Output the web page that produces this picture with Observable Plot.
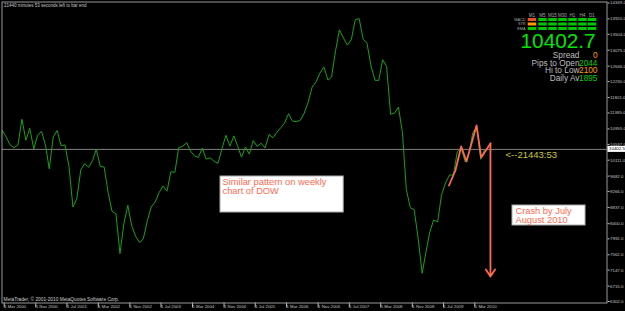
<!DOCTYPE html>
<html><head><meta charset="utf-8">
<script src="https://cdn.jsdelivr.net/npm/d3@7"></script>
<script src="https://cdn.jsdelivr.net/npm/@observablehq/plot@0.6"></script>
<style>
html,body{margin:0;padding:0;background:#000;overflow:hidden;}
#wrap{position:relative;width:625px;height:311px;overflow:hidden;background:#000;}
</style></head><body><div id="wrap"></div>
<script>
// Monthly closes (bar open month), Feb 2000 .. Jun 2010
const closes = [
  10128.31, 10921.92, 10733.91, 10522.33, 10447.89, 10521.98, 11215.10, 10650.92, 10971.14, 10414.49, 10786.85,
  10887.36, 10495.28, 9878.78, 10734.97, 10911.94, 10502.40, 10522.81, 9949.75, 8847.56, 9075.14, 9851.56, 10021.50,
  9920.00, 10106.13, 10403.94, 9946.22, 9925.25, 9243.26, 8736.59, 8663.50, 7591.93, 8397.03, 8896.09, 8341.63,
  8053.81, 7891.08, 7992.13, 8480.09, 8850.26, 8985.44, 9233.80, 9415.82, 9275.06, 9801.12, 9782.46, 10453.92,
  10488.07, 10583.92, 10357.70, 10225.57, 10188.45, 10435.48, 10139.71, 10173.92, 10080.27, 10027.47, 10428.02, 10783.01,
  10489.94, 10766.23, 10503.76, 10192.51, 10467.48, 10274.97, 10640.91, 10481.60, 10568.70, 10440.07, 10805.87, 10717.50,
  10864.86, 10993.41, 11109.32, 11367.14, 11168.31, 11150.22, 11185.68, 11381.15, 11679.07, 12080.73, 12221.93, 12463.15,
  12621.69, 12268.63, 12354.35, 13062.91, 13627.64, 13408.62, 13211.99, 13357.74, 13895.63, 13930.01, 13371.72, 13264.82,
  12650.36, 12266.39, 12262.89, 12820.13, 12638.32, 11350.01, 11378.02, 11543.55, 10850.66, 9325.01, 8829.04, 8776.39,
  8000.86, 7062.93, 7608.92, 8168.12, 8500.33, 8447.00, 9171.61, 9496.28, 9712.28, 9712.73, 10344.84, 10428.05,
  10067.33, 10325.26, 10856.63, 11008.61, 10136.63, 10402.7
];
const firstBar = "2000-02-01";

const xTickDates = ["2000-03-01","2000-11-01","2001-07-01","2002-03-01","2002-11-01","2003-07-01","2004-03-01","2004-11-01",
  "2005-07-01","2006-03-01","2006-11-01","2007-07-01","2008-03-01","2008-11-01","2009-07-01","2010-03-01"];
const yTickValues = [14349, 13920, 13504, 13075, 12646, 12230, 11801, 11385, 10955, 10537, 10111,
  9682, 9266, 8837, 8400, 7992, 7562, 7147, 6715, 6302];

const bidPrice = 10402.5;
const lastPrice = 10402.7;

// hand-drawn projection (orange)
const sketchDates = ["2009-08-28","2009-10-17","2009-12-01","2010-01-11","2010-03-30","2010-05-05","2010-07-16"];
const sketchValues = [9429, 9834, 10481, 10076, 11047, 10184, 10562];
const arrowDate = "2010-07-16";
const arrowFrom = 10562;
const arrowTo = 6976;

// annotations
const noteTexts = ["Similar pattern on weekly\nchart of DOW", "Crash by July\nAugust 2010"];
const noteBoxX1 = ["2004-10-20", "2011-01-03"];
const noteBoxX2 = ["2007-06-03", "2012-07-23"];
const noteBoxY1 = [8701, 8351];
const noteBoxY2 = [9672, 8890];
const noteTextX = ["2004-11-05", "2011-01-26"];
const noteTextY = [9618, 8836];
const countdownText = "<--21443:53";
const countdownX = "2010-11-10";
const countdownY = 10252;

const topLeftText = "21440 minutes 53 seconds left to bar end";
const copyrightText = "MetaTrader, \u00a9 2001-2010 MetaQuotes Software Corp.";

// indicator panel
const tfLabels = ["M1","M5","M15","M30","H1","H4","D1"];
const indLabels = ["MACD","STR","EMA"];
const indStates = [
  ["dn","up","up","up","up","up","up"],
  ["flat","up","up","up","up","up","up"],
  ["up","up","up","up","up","up","up"]
];
const infoLabels = ["Spread","Pips to Open","Hi to Low","Daily Av"];
const infoValues = ["0","2044","2100","1895"];
const infoKinds = ["o","g","o","g"];

// ---- build ----
const series = closes.map((c, i) => ({date: d3.utcMonth.offset(new Date(firstBar), i), close: c}));
const sketch = sketchDates.map((d, i) => ({date: new Date(d), value: sketchValues[i]}));
const notes = noteTexts.map((t, i) => ({
  text: t, x1: new Date(noteBoxX1[i]), x2: new Date(noteBoxX2[i]), y1: noteBoxY1[i], y2: noteBoxY2[i],
  tx: new Date(noteTextX[i]), ty: noteTextY[i]
}));
const font = "'Liberation Sans', Arial, sans-serif";

const chart = Plot.plot({
  width: 625, height: 311,
  marginLeft: 1.5, marginRight: 18.5, marginTop: 1.5, marginBottom: 8.5,
  style: {background: "#000", color: "#c4c4c4", fontFamily: font, overflow: "visible"},
  x: {type: "utc", domain: [new Date("2000-03-01"), new Date("2010-03-01")], range: [1.7, 472.3]},
  y: {domain: [6302, 14349], range: [301, 2.5]},
  marks: [
    Plot.ruleY([bidPrice], {stroke: "#808080", strokeWidth: 1}),
    Plot.line(series, {x: "date", y: "close", stroke: "#16a316", strokeWidth: 1, clip: true}),
    Plot.line(sketch, {x: "date", y: "value", stroke: "#ff6a4a", strokeWidth: 1.8}),
    Plot.arrow([{d: new Date(arrowDate)}], {x1: "d", x2: "d", y1: () => arrowFrom, y2: () => arrowTo,
      stroke: "#ff6a4a", strokeWidth: 1.8, headLength: 7, headAngle: 66}),
    Plot.rect(notes, {x1: "x1", x2: "x2", y1: "y1", y2: "y2", fill: "#fff", stroke: "#a8a8a8", strokeWidth: 1}),
    Plot.text(notes, {x: "tx", y: "ty", text: "text", textAnchor: "start", lineAnchor: "top",
      fontSize: 9.3, lineHeight: 0.95, fill: "#ff6a50"}),
    Plot.text([countdownText], {x: () => new Date(countdownX), y: () => countdownY, text: d => d,
      textAnchor: "start", lineAnchor: "middle", fontSize: 9.5, fill: "#c8c832"}),
    Plot.text([topLeftText], {frameAnchor: "top-left", text: d => d, textAnchor: "start", lineAnchor: "top",
      dx: 2, dy: 2, fontSize: 4.5, fill: "#c8c8c8"}),
    Plot.text([copyrightText], {frameAnchor: "bottom-left", text: d => d, textAnchor: "start", lineAnchor: "bottom",
      dx: 1.5, dy: -2, fontSize: 4.8, fill: "#d0d0d0"}),
    Plot.axisX({ticks: xTickDates.map(s => new Date(s)), tickFormat: d3.utcFormat("1 %b %Y"), anchor: "bottom",
      tickSize: 5, tickPadding: -3.5, textAnchor: "start", dx: 2, fontSize: 4.3, label: null}),
    Plot.axisY({ticks: yTickValues, tickFormat: d => d.toFixed(1), anchor: "right",
      tickSize: 2, tickPadding: 1, fontSize: 4.4, label: null}),
    Plot.frame({stroke: "#9a9a9a"})
  ]
});
document.getElementById("wrap").appendChild(chart);

// overlay: price tag + indicator panel
const ov = d3.select("#wrap").append("svg").attr("width", 625).attr("height", 311)
  .style("position", "absolute").style("left", "0px").style("top", "0px").style("font-family", font);

const py = chart.scale("y").apply(bidPrice);
ov.append("rect").attr("x", 607.5).attr("y", py - 3).attr("width", 18).attr("height", 6).attr("fill", "#fff");
ov.append("text").attr("x", 609).attr("y", py + 1.6).attr("font-size", 4.4).attr("fill", "#000").text(bidPrice.toFixed(1));

const colX = [532, 542.5, 552.5, 562.5, 572.5, 582.5, 592];
const rowY = [18, 22.5, 27];
const stateColor = {up: "#00c800", dn: "#e8502c", flat: "#ff9a00"};
tfLabels.forEach((t, i) => ov.append("text").attr("x", colX[i]).attr("y", 16.5).attr("text-anchor", "middle")
  .attr("font-size", 4.5).attr("fill", "#a8a8a8").text(t));
indLabels.forEach((t, r) => ov.append("text").attr("x", 525.5).attr("y", rowY[r] + 2.6).attr("text-anchor", "end")
  .attr("font-size", 3.8).attr("fill", "#a8a8a8").text(t));
indStates.forEach((row, r) => row.forEach((s, c) => ov.append("rect").attr("x", colX[c] - 4.25).attr("y", rowY[r])
  .attr("width", 8.5).attr("height", 3).attr("fill", stateColor[s])));

ov.append("text").attr("x", 520.5).attr("y", 47.5).attr("font-size", 20.8).attr("fill", "#00e600").text(lastPrice.toFixed(1));

const infoBase = [58, 65.5, 73, 80.5];
const kindColor = {o: "#ff9a00", g: "#00d000"};
infoLabels.forEach((t, i) => {
  ov.append("text").attr("x", 579.5).attr("y", infoBase[i]).attr("text-anchor", "end")
    .attr("font-size", 8.3).attr("fill", "#bdbdbd").text(t);
  ov.append("text").attr("x", 597.5).attr("y", infoBase[i]).attr("text-anchor", "end")
    .attr("font-size", 8.3).attr("fill", kindColor[infoKinds[i]]).text(infoValues[i]);
});
</script>
</body></html>
